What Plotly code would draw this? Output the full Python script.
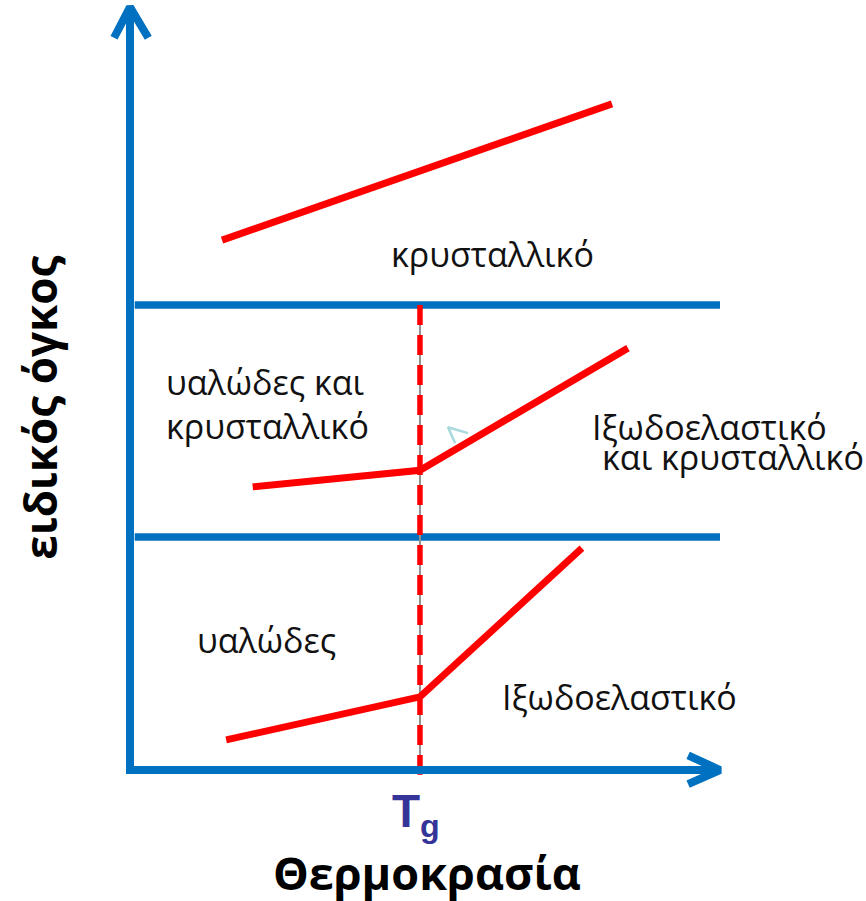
import plotly.graph_objects as go

# ---- data (temperature x, specific volume y; arbitrary units) ----
Tg = 4.915
x_axis_end = 10.0
y_axis_end = 12.93
band_levels = [7.88, 3.95]          # horizontal separators
band_x = [0.08, 10.0]

top_x = [1.56, 8.17]
top_y = [8.98, 11.29]
mid_x = [2.08, 4.915, 8.44]
mid_y = [4.80, 5.08, 7.15]
bot_x = [1.63, 4.915, 7.66]
bot_y = [0.51, 1.24, 3.76]

# faint cyan tick mark near the middle curve
mark_x = [5.73, 5.39, 5.51]
mark_y = [5.71, 5.81, 5.54]

labels = [
    ("κρυσταλλικό", 6.14, 8.75, "center"),
    ("υαλώδες και<br>κρυσταλλικό", 0.58, 6.195, "left"),
    ("Ιξωδοελαστικό", 7.80, 5.81, "left"),
    ("και κρυσταλλικό", 7.97, 5.31, "left"),
    ("υαλώδες", 1.11, 2.20, "left"),
    ("Ιξωδοελαστικό", 6.27, 1.24, "left"),
]

BLUE = "#0070C0"
RED = "#FF0000"

fig = go.Figure()

# horizontal separators
for lv in band_levels:
    fig.add_trace(go.Scatter(x=band_x, y=[lv, lv], mode="lines",
                             line=dict(color=BLUE, width=7.5), hoverinfo="skip"))

# Tg dashed line (grey underlay + red dashes)
fig.add_trace(go.Scatter(x=[Tg, Tg], y=[band_levels[0], -0.08], mode="lines",
                         line=dict(color="#909090", width=2), hoverinfo="skip"))
fig.add_trace(go.Scatter(x=[Tg, Tg], y=[band_levels[0], -0.08], mode="lines",
                         line=dict(color=RED, width=5.5, dash="20px,10px"), hoverinfo="skip"))

# axes
fig.add_trace(go.Scatter(x=[0, 0, x_axis_end], y=[y_axis_end, 0, 0], mode="lines",
                         line=dict(color=BLUE, width=8), hoverinfo="skip"))
# arrowheads (chevrons)
fig.add_trace(go.Scatter(x=[-0.27, 0, 0.31], y=[y_axis_end - 0.52, y_axis_end, y_axis_end - 0.52],
                         mode="lines", line=dict(color=BLUE, width=8), hoverinfo="skip"))
fig.add_trace(go.Scatter(x=[x_axis_end - 0.54, x_axis_end, x_axis_end - 0.54], y=[0.25, 0, -0.24],
                         mode="lines", line=dict(color=BLUE, width=8), hoverinfo="skip"))

# red curves
for xs, ys in [(top_x, top_y), (mid_x, mid_y), (bot_x, bot_y)]:
    fig.add_trace(go.Scatter(x=xs, y=ys, mode="lines",
                             line=dict(color=RED, width=7), hoverinfo="skip"))

fig.add_trace(go.Scatter(x=mark_x, y=mark_y, mode="lines",
                         line=dict(color="#A9D9DE", width=2.5), hoverinfo="skip"))

# region labels
for txt, x, y, al in labels:
    fig.add_annotation(x=x, y=y, text=txt, showarrow=False, xanchor=al, align=al,
                       font=dict(family="Open Sans", size=34, color="#111111"))

# Tg label
fig.add_annotation(x=4.85, y=-0.76, text="<b>T<sub>g</sub></b>", showarrow=False,
                   font=dict(family="Liberation Sans", size=46, color="#353599"))
# axis titles
fig.add_annotation(x=5.03, y=-1.74, text="<b>Θερμοκρασία</b>", showarrow=False,
                   font=dict(family="Open Sans", size=45, color="#000000"))
fig.add_annotation(x=-1.525, y=6.14, text="<b>ειδικός όγκος</b>", showarrow=False, textangle=-90,
                   font=dict(family="Open Sans", size=44, color="#000000"))

fig.update_layout(
    width=866, height=901, margin=dict(l=0, r=0, t=0, b=0),
    paper_bgcolor="white", plot_bgcolor="white", showlegend=False,
    xaxis=dict(range=[-2.203, 12.475], visible=False, fixedrange=True),
    yaxis=dict(range=[-2.220, 13.05], visible=False, fixedrange=True),
)

fig.write_html("out.html", config={"displayModeBar": False},
               post_script="document.body.style.margin='0';document.body.style.overflow='hidden';")
